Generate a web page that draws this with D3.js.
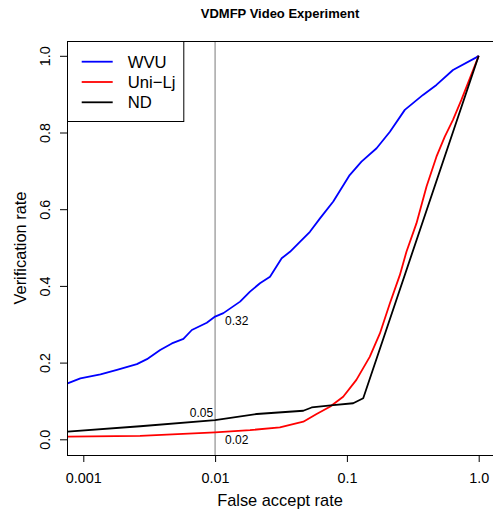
<!DOCTYPE html>
<html>
<head>
<meta charset="utf-8">
<script src="https://cdnjs.cloudflare.com/ajax/libs/d3/7.8.5/d3.min.js"></script>
<style>
  html, body { margin: 0; padding: 0; background: #fff; }
  svg { display: block; font-family: "Liberation Sans", Arial, Helvetica, sans-serif; }
</style>
</head>
<body>
<svg id="chart" width="493" height="513"></svg>
<script>
// Data (false accept rate, verification rate)
const wvuFar = [0.00076, 0.00095, 0.00135, 0.0018, 0.00255, 0.00304, 0.00383, 0.0047, 0.00575, 0.00666, 0.00865, 0.01, 0.01156, 0.01547, 0.0184, 0.0219, 0.0261, 0.032, 0.037, 0.044, 0.0524, 0.0625, 0.0788, 0.105, 0.129, 0.168, 0.212, 0.275, 0.378, 0.478, 0.638, 0.96, 1.0];
const wvuVr  = [0.146, 0.159, 0.169, 0.181, 0.196, 0.209, 0.233, 0.250, 0.262, 0.285, 0.304, 0.32, 0.329, 0.359, 0.385, 0.407, 0.424, 0.472, 0.489, 0.515, 0.541, 0.576, 0.620, 0.689, 0.724, 0.759, 0.802, 0.859, 0.898, 0.924, 0.963, 0.996, 1.0];

const ljFar = [0.00076, 0.0027, 0.01, 0.0184, 0.031, 0.0467, 0.0589, 0.0743, 0.0937, 0.118, 0.149, 0.178, 0.212, 0.252, 0.283, 0.337, 0.402, 0.478, 0.553, 0.638, 0.739, 1.0];
const ljVr  = [0.007, 0.009, 0.018, 0.024, 0.031, 0.046, 0.066, 0.085, 0.111, 0.155, 0.215, 0.276, 0.355, 0.428, 0.489, 0.563, 0.659, 0.737, 0.789, 0.833, 0.885, 1.0];

const ndFar = [0.00076, 0.0027, 0.01, 0.0207, 0.0467, 0.054, 0.0788, 0.1116, 0.133, 1.0];
const ndVr  = [0.020, 0.034, 0.05, 0.066, 0.0745, 0.083, 0.089, 0.094, 0.107, 1.0];

const seriesNames = ["WVU", "Uni\u2212Lj", "ND"];
const seriesColors = ["#0000ff", "#ff0000", "#000000"];

const xTicks = [0.001, 0.01, 0.1, 1];
const xTickLabels = ["0.001", "0.01", "0.1", "1.0"];
const yTicks = [0, 0.2, 0.4, 0.6, 0.8, 1.0];
const yTickLabels = ["0.0", "0.2", "0.4", "0.6", "0.8", "1.0"];

// value labels at FAR = 0.01
const markFar = 0.01;
const markLabels = ["0.32", "0.02", "0.05"];
const markValues = [0.32, 0.018, 0.05];

const svg = d3.select("#chart");
const box = { left: 67, right: 493, top: 41, bottom: 455 };

// x: log scale, 0.001 at 83.3px, 1.0 at 478.7px
const x = d3.scaleLog().domain([0.001, 1]).range([83.3, 478.7]);
// y: 0.0 at 439.3px, 1.0 at 55.8px
const y = d3.scaleLinear().domain([0, 1]).range([439.3, 55.8]);

// clip for the plot region
svg.append("defs").append("clipPath").attr("id", "plotclip")
  .append("rect")
  .attr("x", box.left).attr("y", box.top)
  .attr("width", box.right - box.left).attr("height", box.bottom - box.top);

// title
svg.append("text")
  .attr("x", 280).attr("y", 18)
  .attr("text-anchor", "middle")
  .style("font-size", "13px")
  .style("font-weight", "bold")
  .text("VDMFP Video Experiment");

// x axis
const xAxis = svg.append("g")
  .attr("transform", `translate(0,${box.bottom})`)
  .call(d3.axisBottom(x).tickValues(xTicks).tickSize(7).tickPadding(11)
    .tickFormat((d, i) => xTickLabels[i]));
xAxis.select(".domain").remove();
xAxis.selectAll("text").style("font-size", "14.4px").attr("fill", "#000").attr("font-family", null);
xAxis.selectAll("line").attr("stroke", "#000");

// y axis (rotated labels like R)
const yAxis = svg.append("g")
  .attr("transform", `translate(${box.left},0)`)
  .call(d3.axisLeft(y).tickValues(yTicks).tickSize(7).tickFormat((d, i) => yTickLabels[i]));
yAxis.select(".domain").remove();
yAxis.selectAll("line").attr("stroke", "#000");
yAxis.selectAll("text")
  .attr("x", null).attr("dy", "0.35em")
  .attr("text-anchor", "middle")
  .attr("transform", "translate(-22,0) rotate(-90)")
  .attr("fill", "#000").attr("font-family", null)
  .style("font-size", "14.4px");

// axis titles
svg.append("text")
  .attr("x", 280).attr("y", 506)
  .attr("text-anchor", "middle")
  .style("font-size", "16.4px")
  .text("False accept rate");

svg.append("text")
  .attr("transform", `translate(20,${(box.top + box.bottom) / 2}) rotate(-90)`)
  .attr("dy", "0.35em")
  .attr("text-anchor", "middle")
  .style("font-size", "16.4px")
  .text("Verification rate");

// reference line at FAR = 0.01
svg.append("line")
  .attr("x1", x(markFar)).attr("x2", x(markFar))
  .attr("y1", box.top).attr("y2", box.bottom)
  .attr("stroke", "#a6a6a6").attr("stroke-width", 1.5);

// curves
const series = [
  { far: wvuFar, vr: wvuVr },
  { far: ljFar, vr: ljVr },
  { far: ndFar, vr: ndVr }
];
const line = d3.line().x((d) => x(d[0])).y((d) => y(d[1]));
const plot = svg.append("g").attr("clip-path", "url(#plotclip)");
series.forEach((s, i) => {
  plot.append("path")
    .datum(s.far.map((f, j) => [f, s.vr[j]]))
    .attr("d", line)
    .attr("fill", "none")
    .attr("stroke", seriesColors[i])
    .attr("stroke-width", 1.8)
    .attr("stroke-linejoin", "round");
});

// value labels
const labelPos = [
  { dx: 10, dy: 8, anchor: "start" },
  { dx: 10, dy: 12, anchor: "start" },
  { dx: -2, dy: -3.5, anchor: "end" }
];
markLabels.forEach((t, i) => {
  svg.append("text")
    .attr("x", x(markFar) + labelPos[i].dx)
    .attr("y", y(markValues[i]) + labelPos[i].dy)
    .attr("text-anchor", labelPos[i].anchor)
    .style("font-size", "12px")
    .text(t);
});

// legend
const legend = svg.append("g");
legend.append("rect")
  .attr("x", box.left + 0.5).attr("y", box.top + 0.5)
  .attr("width", 183.3 - box.left).attr("height", 121 - box.top)
  .attr("fill", "#fff").attr("stroke", "#000");
seriesNames.forEach((name, i) => {
  const cy = 61.7 + i * 20.3;
  legend.append("line")
    .attr("x1", 81.7).attr("x2", 112.7)
    .attr("y1", cy).attr("y2", cy)
    .attr("stroke", seriesColors[i]).attr("stroke-width", 1.8);
  legend.append("text")
    .attr("x", 127.7).attr("y", cy)
    .attr("dy", "0.35em")
    .style("font-size", "16.7px")
    .text(name);
});

// plot box
svg.append("rect")
  .attr("x", box.left + 0.5).attr("y", box.top + 0.5)
  .attr("width", box.right - box.left + 5).attr("height", box.bottom - box.top)
  .attr("fill", "none").attr("stroke", "#000");
</script>
</body>
</html>
